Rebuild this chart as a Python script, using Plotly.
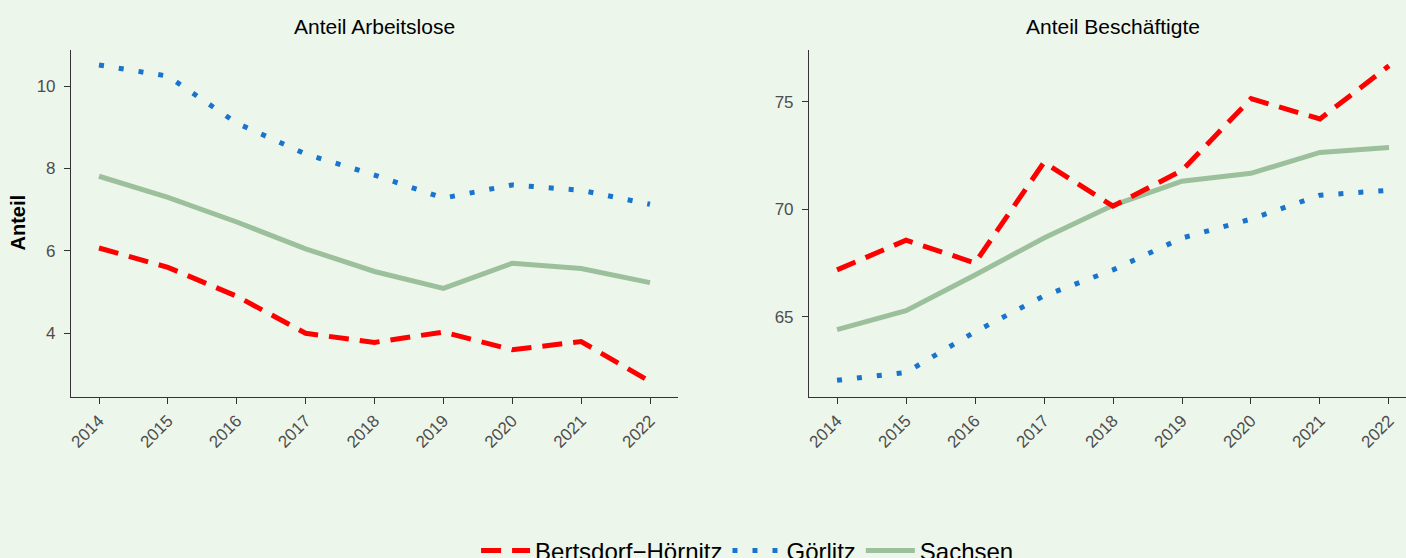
import plotly.graph_objects as go

W, H = 1406, 558

years = [2014, 2015, 2016, 2017, 2018, 2019, 2020, 2021, 2022]
series_names = ["Bertsdorf\u2212Hörnitz", "Görlitz", "Sachsen"]

# Anteil Arbeitslose
arbeitslose_bertsdorf = [6.07, 5.60, 4.90, 4.00, 3.78, 4.03, 3.60, 3.80, 2.83]
arbeitslose_goerlitz = [10.51, 10.24, 9.10, 8.35, 7.84, 7.28, 7.60, 7.47, 7.13]
arbeitslose_sachsen = [7.81, 7.30, 6.70, 6.05, 5.50, 5.09, 5.70, 5.57, 5.23]

# Anteil Beschäftigte
beschaeftigte_bertsdorf = [67.18, 68.56, 67.50, 72.18, 70.14, 71.80, 75.14, 74.20, 76.67]
beschaeftigte_goerlitz = [62.04, 62.41, 64.30, 65.97, 67.18, 68.66, 69.54, 70.65, 70.88]
beschaeftigte_sachsen = [64.40, 65.28, 66.94, 68.66, 70.18, 71.30, 71.67, 72.64, 72.87]

panel_titles = ["Anteil Arbeitslose", "Anteil Beschäftigte"]
y_title = "Anteil"

BG = "#EDF6EB"
RED = "#FF0000"
BLUE = "#1874CD"
GREEN = "#9BC09B"
FONT = "Liberation Sans, Arial, sans-serif"

styles = {
    series_names[0]: dict(color=RED, dash="20px,11px", width=5),
    series_names[1]: dict(color=BLUE, dash="5px,15px", width=5),
    series_names[2]: dict(color=GREEN, dash="solid", width=5),
}

fig = go.Figure()

panels = [
    ("x", "y", [arbeitslose_bertsdorf, arbeitslose_goerlitz, arbeitslose_sachsen], True),
    ("x2", "y2", [beschaeftigte_bertsdorf, beschaeftigte_goerlitz, beschaeftigte_sachsen], False),
]

draw_order = [2, 1, 0]
for xa, ya, data, show in panels:
    for i in draw_order:
        name = series_names[i]
        fig.add_trace(go.Scatter(
            x=years, y=data[i], mode="lines", name=name,
            line=styles[name], xaxis=xa, yaxis=ya,
            showlegend=show, legendgroup=name, legendrank=i + 1,
        ))


def px_x(p):
    return p / W


def px_y(p):
    return 1 - p / H


axis_common = dict(
    showline=True, linecolor="#333333", linewidth=1.1,
    ticks="outside", ticklen=6, tickwidth=1.1, tickcolor="#333333",
    showgrid=False, zeroline=False,
    tickfont=dict(family=FONT, size=17, color="#4D4D4D"),
)

pxyr = (650 - 99) / 8.0
left_x0, left_x1 = 71, 678
right_x0 = 809
x_lo = 2014 - (99 - left_x0) / pxyr
x_hi_left = 2022 + (left_x1 - 650) / pxyr
x_hi_right = 2022 + (W - 1389) / pxyr

y_top, y_bot = 50, 397

fig.update_layout(
    width=W, height=H,
    margin=dict(l=0, r=0, t=0, b=0, autoexpand=False),
    paper_bgcolor=BG, plot_bgcolor=BG,
    font=dict(family=FONT, color="black"),
    xaxis=dict(domain=[px_x(left_x0), px_x(left_x1)], range=[x_lo, x_hi_left],
               tickvals=years, ticktext=[str(y) for y in years], tickangle=-45,
               anchor="y", **axis_common),
    yaxis=dict(domain=[px_y(y_bot), px_y(y_top)],
               range=[4 - (y_bot - 333.3) / ((333.3 - 86) / 6), 10 + (86 - y_top) / ((333.3 - 86) / 6)],
               tickvals=[4, 6, 8, 10], anchor="x", ticklabelstandoff=5, **axis_common),
    xaxis2=dict(domain=[px_x(right_x0), 1.0], range=[x_lo, x_hi_right],
                tickvals=years, ticktext=[str(y) for y in years], tickangle=-45,
                anchor="y2", **axis_common),
    yaxis2=dict(domain=[px_y(y_bot), px_y(y_top)],
                range=[65 - (y_bot - 316.7) / ((316.7 - 101.7) / 10), 75 + (101.7 - y_top) / ((316.7 - 101.7) / 10)],
                tickvals=[65, 70, 75], anchor="x2", ticklabelstandoff=5, **axis_common),
    legend=dict(orientation="h", x=0.5317, xanchor="center", y=px_y(551), yanchor="middle",
                font=dict(family=FONT, size=24, color="black"),
                bgcolor="rgba(0,0,0,0)", itemwidth=49, traceorder="normal"),
    showlegend=True,
)

fig.add_annotation(text=panel_titles[0], x=px_x((left_x0 + left_x1) / 2), y=px_y(27),
                   xref="paper", yref="paper", showarrow=False, xanchor="center", yanchor="middle",
                   font=dict(family=FONT, size=21, color="black"))
fig.add_annotation(text=panel_titles[1], x=px_x(1113), y=px_y(27),
                   xref="paper", yref="paper", showarrow=False, xanchor="center", yanchor="middle",
                   font=dict(family=FONT, size=21, color="black"))
fig.add_annotation(text="<b>" + y_title + "</b>", x=px_x(17.5), y=px_y(223), textangle=-90,
                   xref="paper", yref="paper", showarrow=False, xanchor="center", yanchor="middle",
                   font=dict(family=FONT, size=20, color="black"))

fig.write_html(
    "out.html",
    config={"displayModeBar": False},
    post_script="document.body.style.margin='0';document.body.style.padding='0';"
                "document.documentElement.style.background='" + BG + "';"
                "document.body.style.background='" + BG + "';",
)
